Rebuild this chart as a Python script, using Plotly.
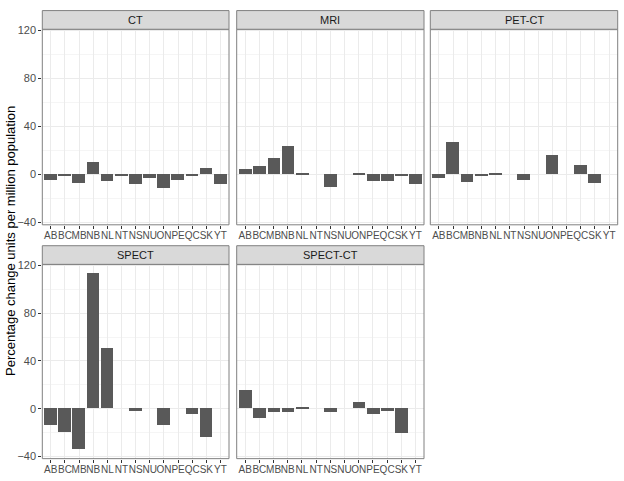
import plotly.graph_objects as go

provinces = ["AB", "BC", "MB", "NB", "NL", "NT", "NS", "NU", "ON", "PE", "QC", "SK", "YT"]
modalities = ["CT", "MRI", "PET-CT", "SPECT", "SPECT-CT"]

ct = [-4.4, -1.6, -7.6, 9.8, -5.4, -0.8, -7.9, -3.5, -11.7, -4.9, -1.4, 5.2, -7.9]
mri = [4.6, 6.5, 13.6, 23.1, 1.2, None, -10.3, None, 0.3, -6.0, -6.0, -1.4, -7.9]
pet_ct = [-3.3, 27.2, -6.8, -1.4, 0.6, None, -4.9, None, 16.3, None, 7.3, -7.1, None]
spect = [-14.1, -19.5, -34.5, 113.2, 50.8, None, -1.9, None, -13.6, None, -4.6, -23.9, None]
spect_ct = [15.2, -8.4, -3.5, -3.0, 1.2, None, -3.0, None, 5.4, -4.9, -1.9, -20.9, None]

series = [ct, mri, pet_ct, spect, spect_ct]

W, H = 624, 481
cols = [(42.3, 229.0), (236.7, 424.0), (430.3, 617.7)]
rows = [(24.7, 224.0), (264.3, 462.3)]
strip_h = 19.0

fig = go.Figure()
yrange = [-41.9, 120.9]
font_fam = "Liberation Sans, Arial"

for i, (name, vals) in enumerate(zip(modalities, series)):
    r, c = divmod(i, 3)
    xl, xr = cols[c]
    yt, yb = rows[r]
    n = i + 1
    xa = "x" if n == 1 else f"x{n}"
    ya = "y" if n == 1 else f"y{n}"
    fig.add_trace(go.Bar(
        x=provinces, y=vals, width=0.9,
        marker=dict(color="#595959", line=dict(width=0)),
        xaxis=xa, yaxis=ya, showlegend=False,
    ))
    xkey = "xaxis" if n == 1 else f"xaxis{n}"
    ykey = "yaxis" if n == 1 else f"yaxis{n}"
    fig.layout[xkey] = dict(
        domain=[xl / W, xr / W], anchor=ya,
        type="category", categoryorder="array", categoryarray=provinces,
        range=[-0.6, 12.6], showgrid=True, gridcolor="#EBEBEB", gridwidth=1,
        ticks="outside", ticklen=3, tickcolor="#333333", tickwidth=1,
        tickangle=0, ticklabelstandoff=-2,
        tickfont=dict(family=font_fam, size=10, color="#4D4D4D"),
        showline=False, zeroline=False, fixedrange=True,
    )
    fig.layout[ykey] = dict(
        domain=[(H - yb) / H, (H - yt) / H], anchor=xa,
        range=yrange, tickvals=[-40, 0, 40, 80, 120],
        showticklabels=(c == 0),
        ticks="outside" if c == 0 else "", ticklen=3, tickcolor="#333333", tickwidth=1,
        showgrid=True, gridcolor="#EBEBEB", gridwidth=1,
        minor=dict(tickvals=[-20, 20, 60, 100], showgrid=True, gridcolor="#F5F5F5", gridwidth=0.6, ticks=""),
        tickfont=dict(family=font_fam, size=11, color="#4D4D4D"),
        showline=False, zeroline=False, fixedrange=True,
    )
    fig.add_shape(type="rect", xref="paper", yref="paper",
                  x0=xl / W, x1=xr / W, y0=(H - yb) / H, y1=(H - yt) / H,
                  line=dict(color="#808080", width=1), fillcolor="rgba(0,0,0,0)", layer="above")
    fig.add_shape(type="rect", xref="paper", yref="paper",
                  x0=xl / W, x1=xr / W, y0=(H - yt) / H, y1=(H - yt + strip_h) / H,
                  line=dict(color="#808080", width=1), fillcolor="#D9D9D9", layer="above")
    fig.add_annotation(x=(xl + xr) / 2 / W, y=(H - yt + strip_h / 2) / H,
                       xref="paper", yref="paper", text=name, showarrow=False,
                       font=dict(family=font_fam, size=11, color="#1A1A1A"),
                       xanchor="center", yanchor="middle")

fig.add_annotation(x=10 / W, y=0.5, xref="paper", yref="paper",
                   text="Percentage change units per million population",
                   textangle=-90, showarrow=False,
                   font=dict(family=font_fam, size=13, color="#000000"),
                   xanchor="center", yanchor="middle")

fig.update_layout(
    width=W, height=H, margin=dict(l=0, r=0, t=0, b=0),
    paper_bgcolor="white", plot_bgcolor="white", bargap=0,
)

fig.write_html("out.html")
